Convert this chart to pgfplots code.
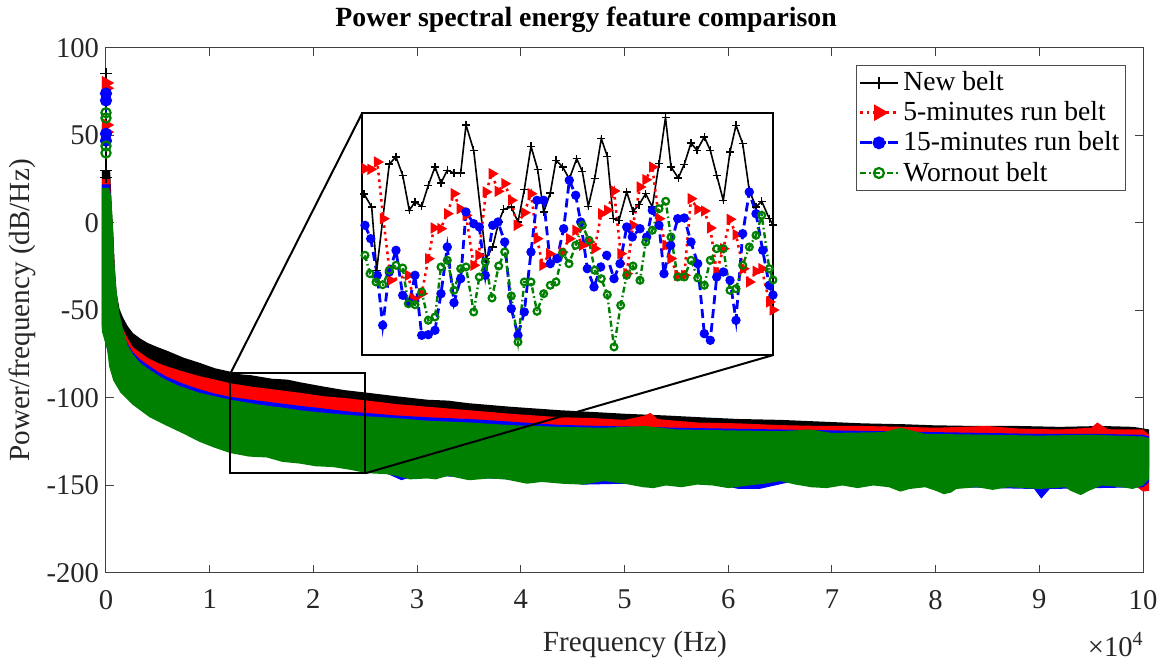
\documentclass[border=0pt]{standalone}
\usepackage{fontspec}
\setmainfont{Liberation Serif}
\usepackage{pgfplots}
\pgfplotsset{compat=1.18}
\definecolor{mgreen}{rgb}{0,0.5,0}
\pgfplotsset{
 sNew/.style={black, line width=0.8pt, mark=+, mark size=2pt, mark options={solid, line width=0.7pt}},
 sFive/.style={red, line width=1.3pt, dotted, mark=triangle*, mark size=2pt, mark options={solid, rotate=-90}},
 sFift/.style={blue, line width=1.4pt, dash pattern=on 4.5pt off 2.5pt, mark=*, mark size=1.6pt, mark options={solid}},
 sWorn/.style={mgreen, line width=1.2pt, dash pattern=on 3pt off 1.5pt on 0.8pt off 1.5pt, mark=o, mark size=1.7pt, mark options={solid, line width=1.1pt}},
}
\begin{document}
\begin{tikzpicture}
\path[use as bounding box] (-53pt,-47pt) rectangle (529pt,286.5pt);
\begin{axis}[
 scale only axis, width=518.5pt, height=262.5pt,
 xmin=0, xmax=100000, ymin=-200, ymax=100, clip=false,
 scaled x ticks=false,
 xtick={0,10000,20000,30000,40000,50000,60000,70000,80000,90000,100000},
 xticklabels={0,1,2,3,4,5,6,7,8,9,10},
 ytick={-200,-150,-100,-50,0,50,100},
 yticklabels={-200,-150,-100,-50,0,50,100},
 tick align=inside, major tick length=4pt, xtick pos=both, ytick pos=both,
 axis line style={black!75, line width=0.5pt},
 every tick/.style={black!75, line width=0.5pt},
 ticklabel style={font=\fontsize{14.3}{16}\selectfont, text=black!85},
 xticklabel style={yshift=-5pt},
 xlabel={Frequency (Hz)}, ylabel={Power/frequency (dB/Hz)},
 label style={font=\fontsize{14.6}{16}\selectfont, text=black!85},
 xlabel style={at={(axis description cs:0.51,-0.1505)}, anchor=base},
 ylabel style={at={(axis description cs:-0.0733,0.5)}, anchor=base},
 title={Power spectral energy feature comparison},
 every axis title shift=0pt,
 title style={at={(axis description cs:0.463,1.04)}, anchor=base, font=\bfseries\fontsize{13.9}{16}\selectfont},
 legend style={at={(axis description cs:1,1)}, anchor=north east, xshift=-8.5pt, yshift=-8.5pt,
   draw=black!70, line width=0.5pt, font=\fontsize{13.8}{15.5}\selectfont, cells={anchor=west}, inner sep=1pt},
 legend image code/.code={\draw[mark repeat=2,mark phase=2,#1] plot coordinates {(0pt,0pt)(9.5pt,0pt)(19pt,0pt)};},
]
% New belt band
\addplot[fill=black, draw=none, forget plot] coordinates {
(-400,30)(400,30)(550,10)(700,-5)(850,-25)(1030,-40)(1300,-49)(1640,-54)(2100,-59)(2610,-63)(3300,-66)(4000,-68.5)(5000,-71)(5890,-73)(7500,-77)(9070,-80)(10500,-83)(12000,-85)(13000,-86.5)(14000,-87)(16000,-89)(17500,-89.5)(18700,-91)(21000,-93.5)(23000,-95.5)(25200,-97)(28000,-99)(31000,-101)(33000,-101.5)(35000,-103)(39000,-105)(43800,-107)(47000,-108)(50000,-109)(54000,-110)(57300,-111)(61000,-112)(65000,-112.5)(69000,-113.5)(73000,-114.5)(77000,-115)(79800,-115.6)(84000,-116)(88000,-116)(92000,-116.5)(96000,-116)(99100,-116.5)(100600,-118)
(100600,-140)(90000,-143)(80000,-145)(65000,-143)(50000,-143)(35000,-139)(25000,-135)(18000,-131)(12000,-125)(8000,-117)(5900,-110)(2600,-98)(1200,-90)(700,-85)(-400,-58)};
% 5-minutes band
\addplot[fill=red, draw=none, forget plot] coordinates {
(-400,25)(400,25)(550,5)(700,-8)(850,-30)(1030,-44)(1300,-53)(1600,-60)(2100,-66)(2600,-71)(3300,-74)(4000,-77)(5000,-80)(5900,-82)(7500,-85)(9000,-87.5)(10500,-89.5)(12000,-91.6)(14000,-93.5)(16000,-95)(18700,-97)(21000,-99)(23000,-100)(25200,-101.5)(28000,-103.5)(31000,-105)(35000,-107)(39000,-109)(43800,-111)(47000,-111.5)(50000,-112.5)(52000,-110)(52500,-108.5)(53200,-112)(54000,-112.5)(57000,-114)(61000,-114.5)(65000,-115.5)(69000,-116)(73000,-116)(77000,-116.5)(80000,-117)(85000,-116)(88000,-117.5)(92000,-118)(95000,-117)(95600,-114)(96500,-117.5)(97000,-118)(100000,-118)(100600,-121)
(100600,-153)(100000,-153.5)(99000,-149)(90000,-148)(70000,-147)(50000,-146)(30000,-141)(12000,-127)(5900,-112)(2600,-99)(700,-86)(-400,-59)};
% 15-minutes band
\addplot[fill=blue, draw=none, forget plot] coordinates {
(-400,22)(400,22)(550,3)(700,-10)(850,-32)(1030,-46)(1300,-56)(1600,-63)(2100,-69)(2600,-74)(3300,-78)(4000,-81)(5000,-85)(5900,-88)(7500,-92)(9000,-95)(10500,-97.5)(12000,-99.4)(14000,-101)(16000,-102.5)(18700,-104.5)(21000,-106)(23000,-107.5)(25200,-108.6)(28000,-110)(31000,-111)(35000,-112)(39000,-113.5)(43800,-115.4)(48000,-116)(52000,-116.5)(55000,-117)(60000,-117.5)(65000,-118)(70000,-118.5)(75000,-119)(80000,-119.5)(85000,-120)(90000,-120.5)(95000,-120.5)(100000,-121)(100600,-122)
(100600,-148)(100000,-151)(91000,-152)(90200,-157.5)(89500,-152)(82000,-151)(66000,-148)(63000,-152)(61000,-152)(58000,-148)(46000,-149.5)(44000,-148)(30000,-144)(28500,-147)(27000,-143)(25000,-140)(12000,-128)(5900,-113)(2600,-100)(700,-87)(-400,-60)};
% Wornout band
\addplot[fill=mgreen, draw=none, forget plot] coordinates {
(-400,20)(300,20)(500,15)(650,0)(800,-22)(1000,-38)(1300,-52)(1700,-62)(2100,-70)(2600,-75)(3300,-80)(4000,-83)(5000,-87)(5900,-90)(7000,-93)(8000,-95)(9000,-97)(10500,-99)(12000,-101)(13500,-102.5)(15000,-104)(17000,-105.5)(18700,-107)(21000,-108.5)(23000,-109.5)(25200,-110.5)(28000,-111.5)(31000,-113)(35000,-114)(39000,-115.5)(43800,-116.5)(48000,-117)(52000,-116)(55000,-118)(60000,-118.5)(65000,-119)(68000,-118)(70000,-120)(75000,-119.5)(76600,-117)(79000,-120.5)(85000,-121)(90000,-121.5)(95000,-121)(100000,-122)(100600,-123)
(100600,-146)(100000,-150)(99000,-152)(98000,-151)(96000,-150)(94800,-153)(94000,-155.5)(93000,-153)(92500,-151)(90000,-152)(87000,-151)(85500,-152.5)(84000,-151)(82000,-152)(81500,-154)(80800,-155)(80000,-153)(79000,-151)(77500,-152)(76600,-153.5)(75500,-151)(74000,-150)(72500,-151.5)(71000,-150)(69500,-151.5)(68000,-151)(66500,-149.5)(65000,-147.5)(63500,-149)(62000,-150)(60000,-151.5)(58500,-150)(57000,-149.5)(55500,-151)(54000,-150)(52800,-151.5)(51800,-151)(50000,-149)(48000,-147.5)(46000,-149.5)(44000,-149)(42000,-148)(40600,-149)(38500,-146.5)(37000,-146)(35000,-147)(33000,-144.5)(31800,-146.5)(31000,-146)(29300,-146.5)(28000,-144.5)(27000,-143.5)(25200,-143)(23500,-141)(21900,-139.5)(20200,-139)(18700,-137.5)(17000,-136.5)(15500,-134)(13800,-133.5)(12000,-131.5)(10500,-128.5)(9000,-125)(7500,-120.5)(5900,-116)(4200,-111)(2600,-104)(1400,-97)(700,-90)(300,-82)(100,-72)(-400,-62)};
% low-frequency peaks
\addplot[sNew, mark size=2.8pt, forget plot] coordinates {(0,85.5)(0,30)(0,26)};
\addplot[sFive, mark size=2.8pt, forget plot] coordinates {(0,80)(0,77)(0,56)(0,52)};
\addplot[sFift, mark size=2.3pt, forget plot] coordinates {(0,74)(0,70)(0,51)(0,47)};
\addplot[sWorn, mark size=2.3pt, forget plot] coordinates {(0,63)(0,60)(0,44)(0,40)};
\addlegendimage{sNew, line width=1pt, mark size=3pt}
\addlegendentry{New belt}
\addlegendimage{sFive, mark size=3.5pt}
\addlegendentry{5-minutes run belt}
\addlegendimage{sFift, dash pattern=on 6pt off 1pt, mark size=2.5pt}
\addlegendentry{15-minutes run belt}
\addlegendimage{sWorn, mark size=2.5pt}
\addlegendentry{Wornout belt}
% zoom box and connectors
\draw[black, line width=1pt] (axis cs:12000,-86) rectangle (axis cs:25000,-143);
\draw[black, line width=1pt] (axis cs:12000,-86) -- (axis cs:24710,62.9);
\draw[black, line width=1pt] (axis cs:25000,-143) -- (axis cs:64380,-75.4);
\node[anchor=base east, font=\fontsize{14.3}{16}\selectfont, text=black!85, inner sep=0pt] at (axis description cs:1,-0.16) {×10\raisebox{0.9ex}{\fontsize{10}{10}\selectfont 4}};
\end{axis}
\begin{axis}[
 at={(128pt,109pt)}, anchor=south west, scale only axis, width=205.5pt, height=121pt,
 xmin=0, xmax=411, ymin=0, ymax=242, ticks=none,
 axis line style={line width=1.3pt, black},
 axis background/.style={fill=white},
]
\addplot[sNew] coordinates {(2,161)(9.7,148)(14.7,84.7)(27.3,191)(34,198)(40.7,179.7)(47.3,144.7)(53,153)(59.7,148.7)(66.3,169.7)(73,188)(79,172)(85.3,184.7)(92,182)(98.7,182)(104,230)(111.7,204.7)(124,96.3)(130.7,108)(136.7,133)(141.7,145.7)(149.3,148)(156,133)(162.3,165.3)(169,208.7)(175.7,185.3)(181.7,143)(188.3,162)(194,194.7)(200.7,188)(207.3,176)(214.7,196.3)(220.3,183.7)(226.3,148.7)(232.7,176.3)(239.3,216.3)(245.3,198.7)(251.3,136.3)(257,134.7)(264.7,163)(271,143.7)(277,150.3)(283.7,161.3)(290.3,148)(297,191.3)(303.5,237.5)(309,188)(316.3,177)(322.3,190.7)(329,212)(335,204.7)(342.3,218)(348.3,204.7)(354.7,179.7)(361.3,154.7)(368,203)(374,229.7)(380.7,211.3)(387.3,164.7)(394,148)(399.7,153.7)(407.3,136.3)(411,130)};
\addplot[sFive] coordinates {(3,186.3)(8.7,185.7)(15.3,193)(21.3,136.3)(28.7,74.7)(46.3,79.7)(51.3,56.3)(59.7,61.3)(66.3,96.3)(72,127)(78.7,126.3)(85.3,141.3)(92,161.3)(98,146.3)(104,139.7)(111.7,89.7)(116.7,99.7)(124,163)(130,181.3)(136,163.7)(142.7,171.3)(149.3,154.7)(155,129.7)(162.3,142.3)(169,161.3)(175,116.3)(180.7,89.7)(187.3,101.3)(194,96.3)(200,103)(207.3,116.3)(213.7,124.7)(220.3,109.7)(227,113)(232.7,106.3)(239.3,141.3)(245.3,144.7)(252,164)(258.7,101.3)(264.7,81.3)(271,129.7)(278,168)(283.7,175.3)(290.3,188)(297,136.3)(303.7,109.7)(308.7,96.3)(315.7,79.7)(322.3,79.7)(329,156.3)(335.7,145.7)(342.3,144)(348.3,127)(354.7,83)(361.3,106.3)(368,135.7)(374,120.3)(381.3,86.3)(387.3,73)(394,83.7)(399.7,86.3)(407.3,53)(411,45)};
\addplot[sFift] coordinates {(3,129.7)(8.7,116.3)(15.3,79.7)(20.7,29.7)(27.3,83)(34,104.7)(40.7,59.7)(47.3,52.3)(53,79.7)(59.7,19.7)(66.3,20.3)(73,24.7)(79,61.3)(85.3,108)(92,52.3)(98.7,76.3)(104,143)(111.7,131.3)(117.3,128)(123.3,79.7)(130.7,129.7)(136,133)(142.7,113)(149.3,46.3)(156,19.7)(162.3,43)(169,103)(175,154.7)(181.7,154.7)(188.3,91.3)(195,96.3)(201.7,126.3)(207.3,174.7)(213.7,159.7)(218.7,133)(225.3,86.3)(232,68)(238.7,88)(244.7,99.7)(252,76.3)(258,91.3)(264.7,128)(270.3,118)(278,126.3)(284.7,118)(290.3,144.7)(297,129.7)(302,81.3)(308.7,109.7)(315.7,136.3)(322.3,137)(329,113)(335.7,91.3)(342.3,21.3)(348.3,14.7)(354.7,78)(361.3,83)(368,74.7)(374,34.7)(380.7,121.3)(387.3,163)(394,141.3)(400.7,104.7)(407.3,69.7)(411,60)};
\addplot[sWorn] coordinates {(3,99.7)(8,81.3)(14,73)(20.7,70.3)(27.3,84.7)(34,89.7)(40.7,87)(46.3,51.3)(53,50.3)(59.7,63)(66.3,34.7)(73,38)(79,88)(85.3,94.7)(92,64.7)(98.7,86.3)(104,88)(111.7,43)(117.3,78)(123.3,93)(130,57)(136.7,89)(142.7,103)(149.3,59)(156,13)(162.3,73)(169,73)(175,43.7)(181.7,61.3)(188.3,69.7)(194,73)(200.7,102.3)(207,91.3)(213.7,109.7)(220.3,129.7)(227,114.7)(232.7,84.7)(239.3,76.3)(245.3,60.3)(252,8)(258.7,49.7)(264.7,79.7)(271,89)(278,74.7)(283.7,113)(290.3,124.7)(297,146.3)(303.7,153.7)(309,118)(315.7,78)(322.3,78)(329,94.7)(335.7,77)(342.3,69.7)(348.3,94.7)(354.7,106.3)(361.3,106.3)(368,64.7)(374,66.3)(380.7,89.7)(387.3,108)(394,119.7)(399.7,139.7)(407.3,86.3)(411,75)};
\end{axis}
\end{tikzpicture}
\end{document}
